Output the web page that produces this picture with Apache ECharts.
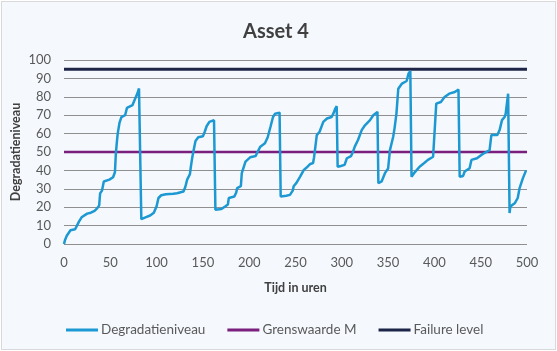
<!DOCTYPE html>
<html>
<head>
<meta charset="utf-8">
<script src="https://cdn.jsdelivr.net/npm/echarts@6/dist/echarts.min.js"></script>
<style>
  html, body { margin: 0; padding: 0; background: #ffffff; }
  #assetChart {
    width: 553px; height: 347px;
    margin: 1px 0 0 1px;
    border: 1px solid #d9d9d9;
    background: #f5f9fd;
  }
</style>
</head>
<body>
<div id="assetChart"></div>
<script>
// tijd (uren) en degradatieniveau
var tijd = [0, 1, 3, 5, 7, 12, 14, 16, 19, 21, 25, 29, 33, 36, 38, 39, 41, 43, 49, 53, 55, 56, 57, 58, 60, 62, 66, 68, 74, 76, 79, 81, 82.5,
  83.5, 88, 93, 97, 100, 102, 105, 110, 118, 122, 129, 131, 133, 136, 137, 138.5, 140, 142, 145, 150, 152, 154, 157, 162,
  163.5, 170, 174, 177, 178, 184, 186, 187, 191, 192, 196, 201, 207, 209, 212, 217, 220, 223, 225.7, 228, 232.8,
  234, 240, 244, 247, 248, 251, 255, 259, 263, 266, 269, 270, 271, 273, 276, 280, 284, 289, 291, 293, 294.5,
  295.5, 299, 303, 305.5, 310, 312, 314, 317.5, 321.5, 325, 330.5, 334, 338.5,
  339.5, 343, 346.6, 350, 352, 355.5, 357, 359, 361, 365, 370, 372, 374,
  375.3, 378, 384, 389, 393, 398.6, 400.5, 402, 407, 411, 416, 422, 426,
  427.3, 431, 432.7, 438, 440, 446, 450.7, 455, 459.6, 461.5, 468, 470.4, 473, 475.8, 477, 479.6,
  481.2, 482, 487, 490, 492, 494, 495.6, 499];
var niveau = [0, 2, 4.5, 6, 7.5, 8, 10, 12, 14.5, 15.5, 16.5, 17, 18, 19.5, 21, 27.5, 29, 34, 35, 36.3, 39, 49, 55, 60, 66, 69, 70, 74, 75.5, 78, 81.5, 84.5, 85,
  13.5, 14.5, 15.5, 17, 20.5, 25, 26.5, 27, 27.3, 27.6, 28.5, 31, 35, 38, 42, 47, 51, 56, 58, 58.6, 61, 64, 66.4, 67.3,
  18.6, 19, 20.4, 21.5, 25, 25.8, 28, 30.4, 31.4, 38.5, 44.8, 47.1, 47.8, 50, 52.9, 54.7, 58, 63.7, 69, 70.8, 71.4,
  25.8, 26.2, 26.7, 29, 31.4, 33.2, 36.6, 40.3, 42, 43.5, 44, 47, 51, 59.2, 61, 66.4, 68.2, 69, 71, 73.6, 74.9,
  42, 42.4, 43, 46.6, 47.8, 50, 52.9, 56.5, 61.9, 64.5, 67.3, 70, 71.8,
  33, 34, 38.5, 41, 51, 58.3, 63, 70.9, 84.4, 87.2, 88.6, 92.5, 94,
  36.6, 38.5, 42, 44, 45.7, 47.4, 48.4, 76.3, 77.2, 79.9, 81.7, 82.6, 83.9,
  36.6, 37, 39.4, 41.2, 45.7, 46.6, 48.4, 49.7, 51, 59.2, 59.2, 61.9, 67.3, 69, 70.8, 81.7,
  16.8, 20.4, 22.3, 25, 30.4, 31, 35.8, 40];
var grenswaarde = 50;
var failureLevel = 95;
var tijdBereik = [0, 500];

var fontFam = 'Lato, "Open Sans", sans-serif';
var chart = echarts.init(document.getElementById('assetChart'));

chart.setOption({
  animation: false,
  title: {
    text: 'Asset 4',
    left: 236,
    top: 15,
    textStyle: { fontFamily: fontFam, fontSize: 20, fontWeight: 'bold', color: '#404040' }
  },
  legend: {
    top: 316,
    left: 59,
    icon: 'rect',
    itemWidth: 32,
    itemHeight: 3,
    itemGap: 22,
    textStyle: { fontFamily: fontFam, fontSize: 13.5, color: '#595959', padding: [0, 0, 0, -2] },
    data: ['Degradatieniveau', 'Grenswaarde M', 'Failure level']
  },
  grid: { left: 62, right: 28, top: 58, bottom: 105, outerBoundsMode: 'none' },
  xAxis: {
    type: 'value',
    min: tijdBereik[0],
    max: tijdBereik[1],
    interval: 50,
    name: 'Tijd in uren',
    nameLocation: 'middle',
    nameGap: 37,
    nameMoveOverlap: false,
    nameTextStyle: { fontFamily: fontFam, fontSize: 12.5, fontWeight: 'bold', color: '#404040' },
    axisLine: { show: false },
    axisTick: { show: false },
    splitLine: { show: false },
    axisLabel: { fontFamily: fontFam, fontSize: 13, color: '#595959', margin: 12 }
  },
  yAxis: {
    type: 'value',
    min: 0,
    max: 100,
    interval: 10,
    name: 'Degradatieniveau',
    nameLocation: 'middle',
    nameGap: 42,
    nameMoveOverlap: false,
    nameTextStyle: { fontFamily: fontFam, fontSize: 12.5, fontWeight: 'bold', color: '#404040' },
    axisLine: { show: false },
    axisTick: { show: false },
    splitLine: { lineStyle: { color: '#8f8f8f', width: 1 } },
    axisLabel: { fontFamily: fontFam, fontSize: 13, color: '#595959', margin: 13 }
  },
  series: [
    {
      name: 'Degradatieniveau',
      type: 'line',
      symbol: 'none',
      color: '#1c98d2',
      lineStyle: { width: 2.5, color: '#1c98d2' },
      data: tijd.map(function (t, i) { return [t, niveau[i]]; }),
      z: 3
    },
    {
      name: 'Grenswaarde M',
      type: 'line',
      symbol: 'none',
      color: '#7a1f7d',
      lineStyle: { width: 2.5, color: '#7a1f7d' },
      data: tijdBereik.map(function (t) { return [t, grenswaarde]; }),
      z: 2
    },
    {
      name: 'Failure level',
      type: 'line',
      symbol: 'none',
      color: '#1c2447',
      lineStyle: { width: 3, color: '#1c2447' },
      data: tijdBereik.map(function (t) { return [t, failureLevel]; }),
      z: 2
    }
  ]
});
</script>
</body>
</html>
